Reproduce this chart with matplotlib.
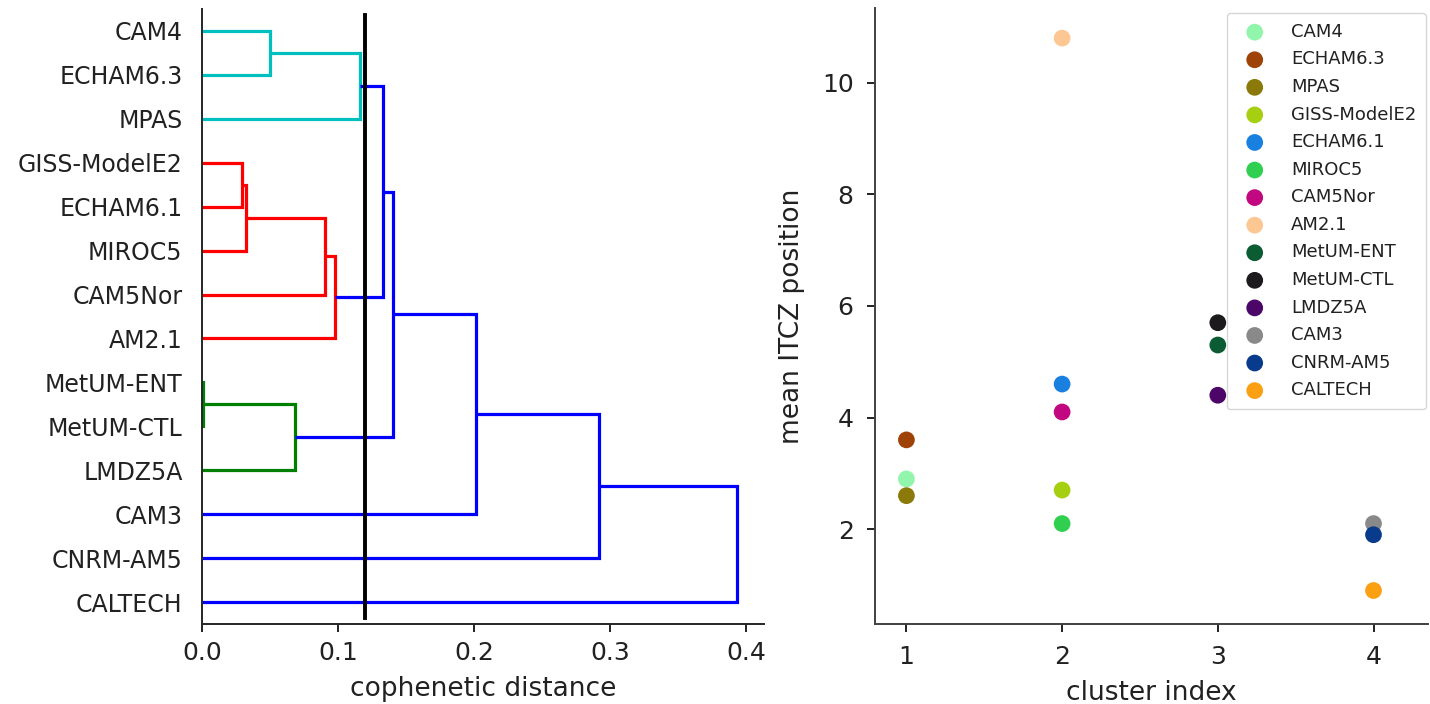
import matplotlib
matplotlib.use("Agg")
import matplotlib.pyplot as plt
import numpy as np

# ---------------- data ----------------
# dendrogram leaves, top to bottom
leaf_labels = ['CAM4', 'ECHAM6.3', 'MPAS', 'GISS-ModelE2', 'ECHAM6.1', 'MIROC5',
               'CAM5Nor', 'AM2.1', 'MetUM-ENT', 'MetUM-CTL', 'LMDZ5A', 'CAM3',
               'CNRM-AM5', 'CALTECH']
# linkage (indices 0..13 = leaves above, 14.. = merged clusters in order)
merge_left = [8, 3, 15, 0, 14, 16, 19, 17, 21, 22, 23, 24, 25]
merge_right = [9, 4, 5, 1, 10, 6, 7, 2, 20, 18, 11, 12, 13]
merge_height = [0.0008, 0.0295, 0.032, 0.050, 0.068, 0.0907, 0.0976, 0.1161,
                0.1331, 0.1404, 0.2015, 0.292, 0.3933]
merge_color = ['g', 'r', 'r', 'c', 'g', 'r', 'r', 'c', 'b', 'b', 'b', 'b', 'b']
cut_distance = 0.12

# scatter data
models = ['CAM4', 'ECHAM6.3', 'MPAS', 'GISS-ModelE2', 'ECHAM6.1', 'MIROC5',
          'CAM5Nor', 'AM2.1', 'MetUM-ENT', 'MetUM-CTL', 'LMDZ5A', 'CAM3',
          'CNRM-AM5', 'CALTECH']
cluster_index = [1, 1, 1, 2, 2, 2, 2, 2, 3, 3, 3, 4, 4, 4]
itcz_position = [2.9, 3.6, 2.6, 2.7, 4.6, 2.1, 4.1, 10.8, 5.3, 5.7, 4.4, 2.1, 1.9, 0.9]
model_colors = ['#92f5ac', '#9e4208', '#8b790a', '#a6cf12', '#1a80e0', '#30cf50',
                '#c20880', '#fdc794', '#0b5b33', '#1c1a1c', '#4b0668', '#898989',
                '#083b8b', '#fba012']

TXT = '0.13'
plt.rcParams['font.family'] = ['DejaVu Sans']
plt.rcParams['text.color'] = TXT
plt.rcParams['axes.labelcolor'] = TXT
plt.rcParams['xtick.color'] = TXT
plt.rcParams['ytick.color'] = TXT

W, H = 1430, 704
fig = plt.figure(figsize=(W / 100, H / 100), dpi=100)

def rect(l, r, t, b):
    return [l / W, (H - b) / H, (r - l) / W, (b - t) / H]

# ---------------- dendrogram ----------------
ax1 = fig.add_axes(rect(202, 764, 9, 624))
n = len(leaf_labels)
pos = {i: 5 + 10 * (n - 1 - i) for i in range(n)}
hgt = {i: 0.0 for i in range(n)}
for k, (a, b, h, col) in enumerate(zip(merge_left, merge_right, merge_height, merge_color)):
    ya, yb = pos[a], pos[b]
    ax1.plot([hgt[a], h, h, hgt[b]], [ya, ya, yb, yb], color=col, lw=2.3,
             solid_capstyle='butt', solid_joinstyle='miter')
    pos[n + k] = (ya + yb) / 2
    hgt[n + k] = h
ax1.axvline(cut_distance, ymin=0.01, ymax=0.99, color='k', lw=2.8)
ax1.set_ylim(0, 10 * n)
ax1.set_xlim(0, max(merge_height) * 1.05)
ax1.set_yticks([5 + 10 * (n - 1 - i) for i in range(n)])
ax1.set_yticklabels(leaf_labels, fontsize=17)
ax1.set_xticks([0.0, 0.1, 0.2, 0.3, 0.4])
ax1.set_xticklabels(['0.0', '0.1', '0.2', '0.3', '0.4'], fontsize=18)
ax1.tick_params(axis='y', length=0, pad=14)
ax1.tick_params(axis='x', length=6, width=1.4, pad=6)
ax1.set_xlabel('cophenetic distance', fontsize=19, labelpad=8)
for s in ['top', 'right']:
    ax1.spines[s].set_visible(False)
for s in ['left', 'bottom']:
    ax1.spines[s].set_color('0.15')
    ax1.spines[s].set_linewidth(1.4)

# ---------------- scatter ----------------
ax2 = fig.add_axes(rect(874.5, 1428, 8, 624))
for m, c, y, col in zip(models, cluster_index, itcz_position, model_colors):
    ax2.scatter(c, y, s=145, color=col, label=m, edgecolors='none', zorder=3)
ax2.set_xlim(0.795, 4.35)
ax2.set_ylim(0.3, 11.34)
ax2.set_xticks([1, 2, 3, 4])
ax2.set_yticks([2, 4, 6, 8, 10])
ax2.tick_params(labelsize=18, length=6, width=1.4, pad=9)
ax2.set_xlabel('cluster index', fontsize=19, labelpad=8)
ax2.set_ylabel('mean ITCZ position', fontsize=19, labelpad=12)
for s in ['top', 'right']:
    ax2.spines[s].set_visible(False)
for s in ['left', 'bottom']:
    ax2.spines[s].set_color('0.25')
    ax2.spines[s].set_linewidth(1.4)
leg = ax2.legend(loc='upper right', bbox_to_anchor=(1426 / W, 1 - 13 / H),
                 bbox_transform=fig.transFigure, borderaxespad=0,
                 fontsize=13, labelspacing=0.53, handletextpad=1.0,
                 borderpad=0.55,
                 frameon=True, fancybox=True, edgecolor='0.8', framealpha=0.8,
                 scatterpoints=1)
leg.get_frame().set_linewidth(1.0)

fig.savefig('out.png', dpi=100)
